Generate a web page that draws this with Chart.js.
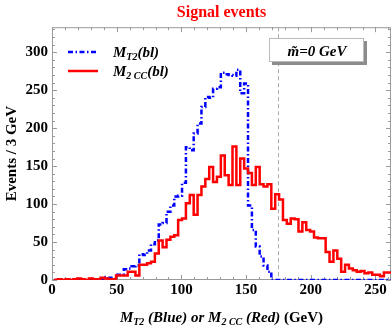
<!DOCTYPE html>
<html>
<head>
<meta charset="utf-8">
<script src="https://cdn.jsdelivr.net/npm/chart.js@4"></script>
<style>
    html, body { margin: 0; padding: 0; background: #fff; }
</style>
</head>
<body>
<canvas id="chartMass" width="392" height="328"></canvas>
<script>
// histogram binning (GeV)
var binStart = 1.5;
var binWidth = 3;

// events per 3 GeV bin
var countsMT2 = [
    0, 0, 0, 0, 0, 0, 0, 0, 0, 0, 0, 0, 0, 1,
    4, 3, 3, 7, 7, 14, 15, 18, 19,
    34, 33, 39, 47, 52, 73, 75, 90, 98, 110,
    111, 128, 175, 171, 193, 206, 228, 241, 240, 252,
    254, 273, 271, 270, 269, 277, 246, 259, 98, 66,
    44, 31, 19, 11, 0, 0, 0, 0, 0, 0,
    0, 0, 0, 0, 0, 0, 0, 0, 0, 0,
    0, 0, 0, 0, 0, 0, 0, 0, 0, 0,
    0, 0, 0, 0
];
var countsM2CC = [
    0, 0, 1, 0, 1, 0, 1, 2, 1, 0, 2, 1, 1, 3,
    2, 1, 1, 6, 6, 6, 11, 11, 6,
    20, 20, 22, 24, 35, 52, 43, 53, 57, 59,
    79, 81, 101, 112, 86, 112, 123, 133, 149, 129,
    136, 164, 138, 125, 176, 125, 160, 147, 141, 125,
    149, 126, 123, 126, 94, 113, 106, 79, 74, 81,
    80, 64, 76, 66, 64, 56, 55, 55, 37, 24,
    39, 28, 11, 20, 15, 13, 11, 12, 9, 10,
    7, 7, 5, 10
];

var xTickLabels = [0, 50, 100, 150, 200, 250];
var yTickLabels = [0, 50, 100, 150, 200, 250, 300];
var topMass = 174.5;

var serif = "'Liberation Serif', 'Times New Roman', serif";
var fontBig = 'italic bold 15px ' + serif;
var fontSub = 'italic bold 10px ' + serif;
var fontUp = 'bold 15px ' + serif;
var blueDash = [5, 2.5, 1.5, 2.5];

function stepPoints(counts) {
    var pts = counts.map(function(c, i) {
        return { x: binStart + i * binWidth, y: c };
    });
    pts.push({ x: binStart + counts.length * binWidth, y: counts[counts.length - 1] });
    return pts;
}

// text with subscripts, drawn piece by piece
function drawRich(ctx, parts, x, y) {
    parts.forEach(function(p) {
        ctx.font = p[1];
        ctx.fillText(p[0], x, y + (p[2] || 0));
        x += ctx.measureText(p[0]).width;
    });
    return x;
}
function richWidth(ctx, parts) {
    var w = 0;
    parts.forEach(function(p) {
        ctx.font = p[1];
        w += ctx.measureText(p[0]).width;
    });
    return w;
}

var framePlugin = {
    id: 'frame',
    beforeDatasetsDraw: function(chart) {
        var ctx = chart.ctx;
        var a = chart.chartArea;
        var xs = chart.scales.x, ys = chart.scales.y;
        ctx.save();
        ctx.strokeStyle = '#9a9a9a';
        ctx.lineWidth = 1;
        ctx.strokeRect(a.left + 0.5, a.top + 0.5, a.right - a.left - 1, a.bottom - a.top - 1);
        ctx.beginPath();
        for (var v = 0; v <= ys.max; v += 10) {
            var py = Math.round(ys.getPixelForValue(v)) + 0.5;
            var len = v % 50 === 0 ? 5 : 3;
            ctx.moveTo(a.left, py); ctx.lineTo(a.left + len, py);
            ctx.moveTo(a.right, py); ctx.lineTo(a.right - len, py);
        }
        for (var u = 0; u <= xs.max; u += 10) {
            var px = Math.round(xs.getPixelForValue(u)) + 0.5;
            var l2 = u % 50 === 0 ? 5 : 3;
            ctx.moveTo(px, a.bottom); ctx.lineTo(px, a.bottom - l2);
            ctx.moveTo(px, a.top); ctx.lineTo(px, a.top + l2);
        }
        ctx.stroke();

        // top mass marker
        var mx = Math.round(xs.getPixelForValue(topMass)) + 0.5;
        ctx.strokeStyle = '#aaaaaa';
        ctx.setLineDash([4, 3]);
        ctx.beginPath();
        ctx.moveTo(mx, a.top);
        ctx.lineTo(mx, a.bottom);
        ctx.stroke();
        ctx.restore();
    },
    afterDraw: function(chart) {
        var ctx = chart.ctx;
        var a = chart.chartArea;
        ctx.save();
        ctx.fillStyle = '#000';
        ctx.textBaseline = 'alphabetic';

        // legend
        ctx.lineWidth = 2.5;
        ctx.strokeStyle = '#0000ff';
        ctx.setLineDash(blueDash);
        ctx.beginPath(); ctx.moveTo(68, 52); ctx.lineTo(98, 52); ctx.stroke();
        ctx.setLineDash([]);
        ctx.strokeStyle = '#ff0000';
        ctx.beginPath(); ctx.moveTo(68, 71); ctx.lineTo(98, 71); ctx.stroke();
        drawRich(ctx, [['M', fontBig], ['T2', fontSub, 3], ['(bl)', fontBig]], 113, 57);
        drawRich(ctx, [['M', fontBig], ['2 CC', fontSub, 3], ['(bl)', fontBig]], 113, 76);

        // mass label box
        ctx.fillStyle = '#8c8c8c';
        ctx.fillRect(272, 41, 95, 24);
        ctx.fillStyle = '#fff';
        ctx.fillRect(269, 38, 95, 24);
        ctx.strokeStyle = '#bbbbbb';
        ctx.lineWidth = 1;
        ctx.strokeRect(269.5, 38.5, 94, 23);
        ctx.fillStyle = '#000';
        ctx.font = fontBig;
        ctx.textAlign = 'center';
        ctx.fillText('m\u0303=0 GeV', 317, 56);
        ctx.textAlign = 'left';

        // x axis title
        var xt = [['M', fontBig], ['T2', fontSub, 3], [' (Blue) or ', fontBig],
                  ['M', fontBig], ['2 CC', fontSub, 3], [' (Red) ', fontBig], ['(GeV)', fontUp]];
        var w = richWidth(ctx, xt);
        drawRich(ctx, xt, (a.left + a.right) / 2 - w / 2, 322);
        ctx.restore();
    }
};

var chartCanvas = document.getElementById('chartMass').getContext('2d');
var chart = new Chart(chartCanvas, {
    type: 'line',
    data: {
        datasets: [{
            label: 'M2CC(bl)',
            data: stepPoints(countsM2CC),
            borderColor: '#ff0000',
            borderWidth: 2.5,
            stepped: 'after',
            pointRadius: 0,
            fill: false,
            order: 0
        }, {
            label: 'MT2(bl)',
            data: stepPoints(countsMT2),
            borderColor: '#0000ff',
            borderWidth: 2.5,
            borderDash: blueDash,
            stepped: 'after',
            pointRadius: 0,
            fill: false,
            order: 1
        }]
    },
    options: {
        responsive: false,
        animation: false,
        layout: { padding: { top: 0, right: 1, bottom: 0, left: 0 } },
        plugins: {
            legend: { display: false },
            tooltip: { enabled: false },
            title: {
                display: true,
                text: 'Signal events',
                color: '#ff0000',
                fullSize: false,
                font: { family: serif, size: 16, weight: 'bold' },
                padding: { top: 3, bottom: 5 }
            }
        },
        scales: {
            x: {
                type: 'linear',
                min: 0,
                max: 262,
                afterBuildTicks: function(s) { s.ticks = xTickLabels.map(function(v) { return { value: v }; }); },
                afterFit: function(s) { s.height = 48; },
                grid: { display: false, drawTicks: false },
                border: { display: false },
                ticks: { color: '#000', padding: 1, maxRotation: 0, font: { family: serif, size: 15, weight: 'bold' } }
            },
            y: {
                min: 0,
                max: 333,
                afterBuildTicks: function(s) { s.ticks = yTickLabels.map(function(v) { return { value: v }; }); },
                afterFit: function(s) { s.width = 52; },
                grid: { display: false, drawTicks: false },
                border: { display: false },
                ticks: { color: '#000', padding: 4, font: { family: serif, size: 15, weight: 'bold' } },
                title: {
                    display: true,
                    text: 'Events / 3 GeV',
                    color: '#000',
                    font: { family: serif, size: 15, weight: 'bold' },
                    padding: { top: 3, bottom: 0 }
                }
            }
        }
    },
    plugins: [framePlugin]
});
</script>
</body>
</html>
